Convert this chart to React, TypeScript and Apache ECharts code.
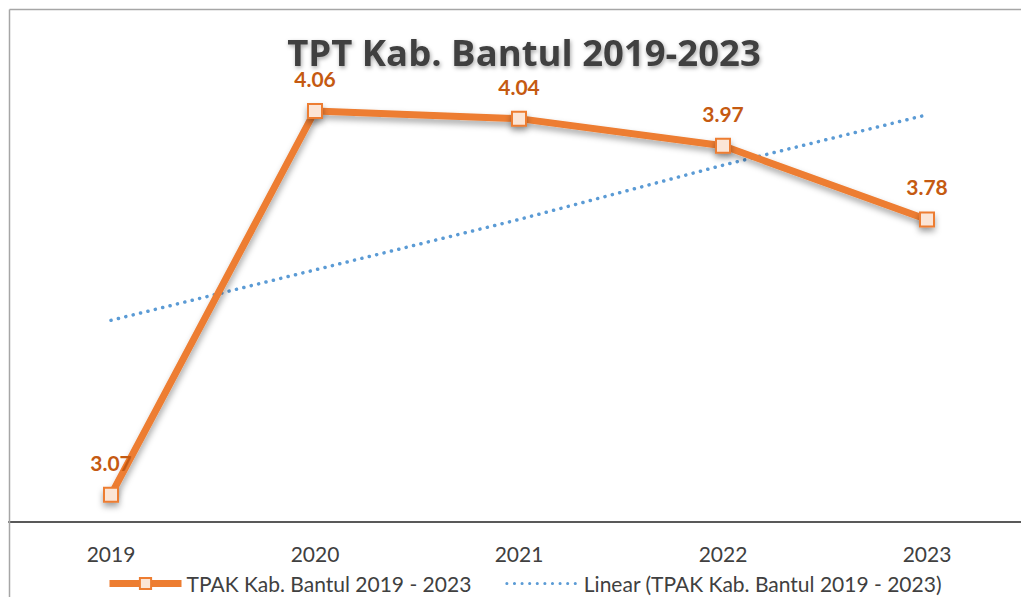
import React, { useEffect, useRef } from "react";
import * as echarts from "echarts";

const categories = ["2019", "2020", "2021", "2022", "2023"];
const tpakValues = [3.07, 4.06, 4.04, 3.97, 3.78];
const trendValues = [3.52, 3.65, 3.78, 3.92, 4.05];
const titleText = "TPT Kab. Bantul 2019-2023";
const seriesName = "TPAK Kab. Bantul 2019 - 2023";
const trendName = "Linear (TPAK Kab. Bantul 2019 - 2023)";

export default function App() {
  const ref = useRef<HTMLDivElement>(null);
  useEffect(() => {
    if (!ref.current) return;
    const chart = echarts.init(ref.current, null, { renderer: "svg" });
    chart.setOption({
      animation: false,
      backgroundColor: "#ffffff",
      title: {
        text: titleText,
        left: 519,
        top: 28,
        textAlign: "center",
        textStyle: {
          fontFamily: "Open Sans",
          fontWeight: "bold",
          fontSize: 36.5,
          lineHeight: 38,
          color: "#404040",
          textShadowColor: "rgba(0,0,0,0.35)",
          textShadowBlur: 4,
          textShadowOffsetX: 1,
          textShadowOffsetY: 2,
        },
      },
      graphic: [
        {
          type: "line",
          shape: { x1: 9.5, y1: 9.5, x2: 1030, y2: 9.5 },
          style: { stroke: "#a6a6a6", lineWidth: 1.5 },
          z: 100,
        },
        {
          type: "line",
          shape: { x1: 9.5, y1: 9.5, x2: 9.5, y2: 597 },
          style: { stroke: "#a6a6a6", lineWidth: 1.5 },
          z: 100,
        },
      ],
      legend: {
        left: 101,
        top: 568,
        itemWidth: 72,
        itemHeight: 14,
        itemGap: 34,
        textStyle: { fontFamily: "Lato", fontSize: 21, color: "#404040" },
        data: [
          { name: seriesName, lineStyle: { width: 7 } },
          { name: trendName, itemStyle: { opacity: 0 }, lineStyle: { width: 3 } },
        ],
      },
      grid: { left: 9, right: 1, top: 56.6, bottom: 75, containLabel: false },
      xAxis: {
        type: "category",
        data: categories,
        boundaryGap: true,
        axisLine: { show: true, lineStyle: { color: "#595959", width: 2 } },
        axisTick: { show: false },
        axisLabel: { fontFamily: "Lato", fontSize: 21, color: "#404040", margin: 21 },
        splitLine: { show: false },
      },
      yAxis: {
        type: "value",
        min: 3,
        max: 4.2,
        show: false,
        splitLine: { show: false },
      },
      series: [
        {
          name: trendName,
          type: "line",
          data: trendValues,
          symbol: "none",
          z: 2,
          lineStyle: { color: "#5B9BD5", width: 3.5, type: [0.1, 7.5], cap: "round" },
          itemStyle: { color: "#5B9BD5" },
        },
        {
          name: seriesName,
          type: "line",
          data: tpakValues,
          z: 3,
          symbol: "rect",
          symbolSize: 14,
          lineStyle: {
            color: "#ED7D31",
            width: 7,
            shadowColor: "rgba(0,0,0,0.35)",
            shadowBlur: 6,
            shadowOffsetX: 1,
            shadowOffsetY: 4,
          },
          itemStyle: {
            color: "#FBE5D6",
            borderColor: "#ED7D31",
            borderWidth: 2,
            shadowColor: "rgba(0,0,0,0.35)",
            shadowBlur: 6,
            shadowOffsetY: 4,
          },
          label: {
            show: true,
            position: "top",
            distance: 13.5,
            fontFamily: "Lato",
            fontWeight: "bold",
            fontSize: 21,
            lineHeight: 22,
            color: "#C55A11",
            formatter: (p: any) => Number(p.value).toFixed(2),
          },
        },
      ],
    });
    return () => chart.dispose();
  }, []);
  return (
    <div
      style={{
        position: "fixed",
        left: 0,
        top: 0,
        width: 1021,
        height: 597,
        overflow: "hidden",
      }}
    >
      <div ref={ref} style={{ width: 1030, height: 597 }} />
    </div>
  );
}
